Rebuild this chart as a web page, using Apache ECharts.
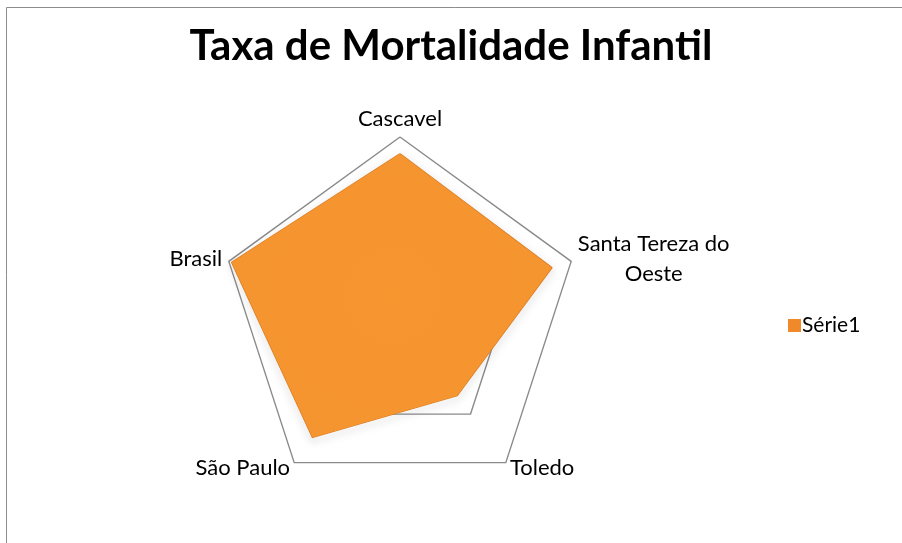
<!DOCTYPE html>
<html>
<head>
<meta charset="utf-8">
<script src="https://cdn.jsdelivr.net/npm/echarts@6/dist/echarts.min.js"></script>
<style>
  body { margin: 0; background: #fff; }
  #container { width: 902px; height: 543px; }
</style>
</head>
<body>
<div id="container"></div>
<script>
// indicators listed counterclockwise from the top, as the radar lays them out
var cidades = ['Cascavel', 'Brasil', 'São Paulo', 'Toledo', 'Santa Tereza do Oeste'];
var serie1 = [27.2, 29.5, 24.8, 16.2, 26.6];
var maxTaxa = 30;

var fonte = 'Lato';

var dom = document.getElementById('container');
var myChart = echarts.init(dom, null, { renderer: 'canvas' });

var option = {
    backgroundColor: '#fff',
    title: {
        text: 'Taxa de Mortalidade Infantil',
        left: 'center',
        top: 20,
        textStyle: {
            fontFamily: fonte,
            fontWeight: 'bold',
            fontSize: 42,
            color: '#000'
        }
    },
    legend: {
        orient: 'vertical',
        left: 783,
        top: 310,
        itemWidth: 13,
        itemHeight: 13,
        icon: 'rect',
        data: ['Série1'],
        textStyle: { fontFamily: fonte, fontSize: 21, color: '#000', padding: [0, 0, 0, -4] }
    },
    graphic: [{
        type: 'rect',
        shape: { x: 6.5, y: 7.5, width: 1000, height: 1000 },
        style: { fill: 'none', stroke: '#8c8c8c', lineWidth: 1 },
        silent: true
    }],
    radar: {
        center: [400, 317],
        radius: 180,
        splitNumber: 3,
        nameGap: 7,
        indicator: cidades.map(function (c) {
            return { name: c, max: maxTaxa, min: 0 };
        }),
        axisName: {
            color: '#000',
            fontFamily: fonte,
            fontSize: 22,
            formatter: function (name) {
                if (name === 'Santa Tereza do Oeste') {
                    return '{c|Santa Tereza do}\n{c|Oeste}';
                }
                return name;
            },
            rich: {
                c: { align: 'center', fontFamily: fonte, fontSize: 22, color: '#000', lineHeight: 30 }
            }
        },
        axisLine: { show: false },
        splitArea: { show: false },
        splitLine: { lineStyle: { color: '#8a8a8a', width: 1.4 } }
    },
    series: [{
        name: 'Série1',
        type: 'radar',
        symbol: 'none',
        itemStyle: { color: '#f0892a' },
        lineStyle: {
            color: '#d97a1e',
            width: 1.5,
            shadowColor: 'rgba(0,0,0,0.35)',
            shadowBlur: 8,
            shadowOffsetY: 3
        },
        areaStyle: {
            opacity: 1,
            color: {
                type: 'radial', x: 0.5, y: 0.5, r: 0.7,
                colorStops: [
                    { offset: 0, color: '#f7952f' },
                    { offset: 0.85, color: '#f59530' },
                    { offset: 1, color: '#e0801f' }
                ]
            }
        },
        data: [{ value: serie1, name: 'Série1' }]
    }]
};

myChart.setOption(option);
window.addEventListener('resize', myChart.resize);
</script>
</body>
</html>
